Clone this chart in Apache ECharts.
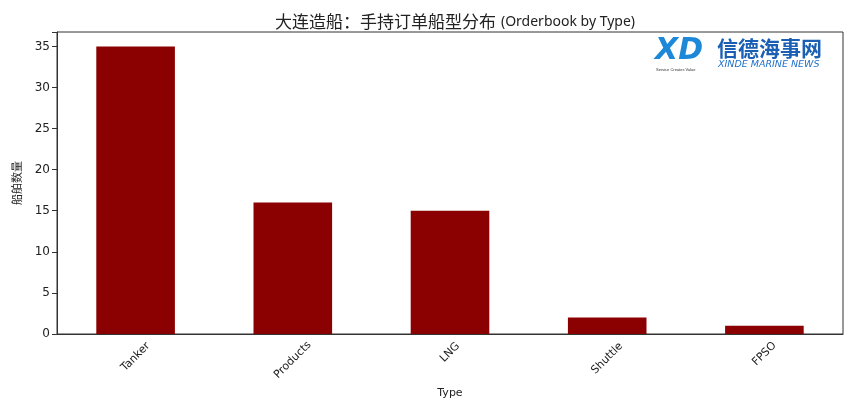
<!DOCTYPE html>
<html><head><meta charset="utf-8">
<script src="https://cdn.jsdelivr.net/npm/echarts@6/dist/echarts.min.js"></script>
<style>html,body{margin:0;padding:0;background:#fff}#c{width:865px;height:404px}</style>
</head><body><div id="c"></div>
<script>
const categories = ['Tanker', 'Products', 'LNG', 'Shuttle', 'FPSO'];
const counts = [35, 16, 15, 2, 1];
const yTicks = [0, 5, 10, 15, 20, 25, 30, 35];
const titleCn = '大连造船：手持订单船型分布';
const titleEn = '(Orderbook by Type)';
const yName = '船舶数量';
const xName = 'Type';

const cjk = '"Noto Sans CJK SC", "Noto Sans", sans-serif';
const lat = '"DejaVu Sans", "Noto Sans CJK SC", sans-serif';
const chart = echarts.init(document.getElementById('c'), null, {renderer: 'canvas'});
const L = 57, R = 22, T = 32, B = 70;

// per-label rich style: shift rotated labels straight down by an amount growing with label length
const rich = {};
categories.forEach((c, i) => {
  const p = 2.1 * c.length;
  rich['l' + i] = {fontFamily: lat, fontSize: 11, color: '#222', padding: [p, p, 0, 0]};
});

chart.setOption({
  animation: false,
  backgroundColor: '#fff',
  title: {text: '{c|' + titleCn + '} {e|' + titleEn + '}', left: 450, top: 8, textAlign: 'center',
    textStyle: {fontWeight: 'normal', rich: {
      c: {fontFamily: cjk, fontSize: 17, fontWeight: 'normal', color: '#222'},
      e: {fontFamily: '"Noto Sans", sans-serif', fontSize: 14, fontWeight: 'normal', color: '#222'}
    }}},
  grid: {left: L, right: R, top: T, bottom: B, show: true, borderColor: '#333', borderWidth: 1, backgroundColor: 'transparent'},
  xAxis: {type: 'category', data: categories, boundaryGap: true,
    name: xName, nameLocation: 'middle', nameGap: 50,
    nameTextStyle: {fontFamily: lat, fontSize: 11, color: '#222'},
    axisLine: {lineStyle: {color: '#333'}},
    axisTick: {alignWithLabel: true, length: 5, lineStyle: {color: '#333'}},
    axisLabel: {rotate: 45, align: 'center', verticalAlign: 'middle', margin: 14,
      fontFamily: lat, fontSize: 11, color: '#222', rich: rich,
      formatter: (v, i) => '{l' + i + '|' + v + '}'}},
  yAxis: {type: 'value', min: 0, max: 36.75, interval: 5,
    name: yName, nameLocation: 'middle', nameGap: 35, nameRotate: 90,
    nameTextStyle: {fontFamily: cjk, fontSize: 11, color: '#222'},
    splitLine: {show: false},
    axisLine: {show: true, lineStyle: {color: '#333'}},
    axisTick: {show: true, length: 5, lineStyle: {color: '#333'}},
    axisLabel: {fontFamily: lat, fontSize: 12, color: '#222', margin: 7,
      formatter: v => yTicks.includes(v) ? String(v) : ''}},
  series: [{type: 'bar', data: counts, barWidth: '50%', itemStyle: {color: '#8B0000'}}],
  graphic: [
    {type: 'text', left: 655, top: 36, style: {text: 'XD', font: 'bold italic 30px "DejaVu Sans", sans-serif', fill: '#1e88d8'}},
    {type: 'text', left: 656, top: 68, style: {text: 'Service Creates Value', font: '4px sans-serif', fill: '#333'}},
    {type: 'text', left: 717, top: 38, style: {text: '信德海事网', font: 'bold 21px "Noto Sans CJK SC", sans-serif', fill: '#1a5fb4'}},
    {type: 'text', left: 718, top: 60, style: {text: 'XINDE MARINE NEWS', font: 'italic 9.5px "DejaVu Sans", sans-serif', fill: '#1e6fc8'}}
  ]
});
</script></body></html>
